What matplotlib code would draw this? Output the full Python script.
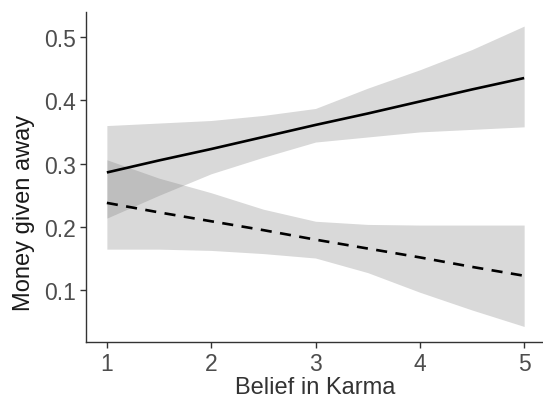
import matplotlib
matplotlib.use("Agg")
import matplotlib.pyplot as plt

plt.rcParams['font.family'] = ['Liberation Sans', 'DejaVu Sans']

# Belief in Karma grid and fitted values
karma = [1, 1.5, 2, 2.5, 3, 3.5, 4, 4.5, 5]

solid_fit = [0.286, 0.305, 0.323, 0.342, 0.361, 0.379, 0.398, 0.417, 0.435]
solid_lo = [0.214, 0.250, 0.284, 0.310, 0.334, 0.342, 0.350, 0.354, 0.358]
solid_hi = [0.360, 0.364, 0.368, 0.376, 0.387, 0.419, 0.448, 0.480, 0.517]

dashed_fit = [0.238, 0.223, 0.209, 0.195, 0.180, 0.166, 0.152, 0.137, 0.123]
dashed_lo = [0.165, 0.165, 0.163, 0.158, 0.151, 0.128, 0.097, 0.069, 0.043]
dashed_hi = [0.306, 0.277, 0.254, 0.228, 0.209, 0.204, 0.203, 0.203, 0.203]

fig = plt.figure(figsize=(5.43, 4.02), dpi=100)
ax = fig.add_axes([0.1584, 0.146, 0.8453, 0.8229])

band = dict(color='#7c7c7c', alpha=0.29, linewidth=0)
ax.fill_between(karma, solid_lo, solid_hi, **band)
ax.fill_between(karma, dashed_lo, dashed_hi, **band)
ax.plot(karma, solid_fit, color='black', linewidth=1.9, solid_capstyle='butt')
ax.plot(karma, dashed_fit, color='black', linewidth=1.9, dashes=(4.2, 3.2))

ax.set_xlim(0.8, 5.2)
ax.set_ylim(0.018, 0.540)
ax.set_xticks([1, 2, 3, 4, 5])
ax.set_yticks([0.1, 0.2, 0.3, 0.4, 0.5])

for side in ['top', 'right']:
    ax.spines[side].set_visible(False)
for side in ['left', 'bottom']:
    ax.spines[side].set_color('#333333')
    ax.spines[side].set_linewidth(1.0)

ax.tick_params(length=4, width=1.0, color='#333333', labelcolor='#4d4d4d',
               labelsize=16.5, pad=3)

ax.set_xlabel('Belief in Karma', fontsize=17, color='#333333', labelpad=1)
ax.set_ylabel('Money given away', fontsize=17, color='#1a1a1a', va='center')
ax.yaxis.set_label_coords(-0.135, 0.395)

fig.savefig('out.png', dpi=100)
